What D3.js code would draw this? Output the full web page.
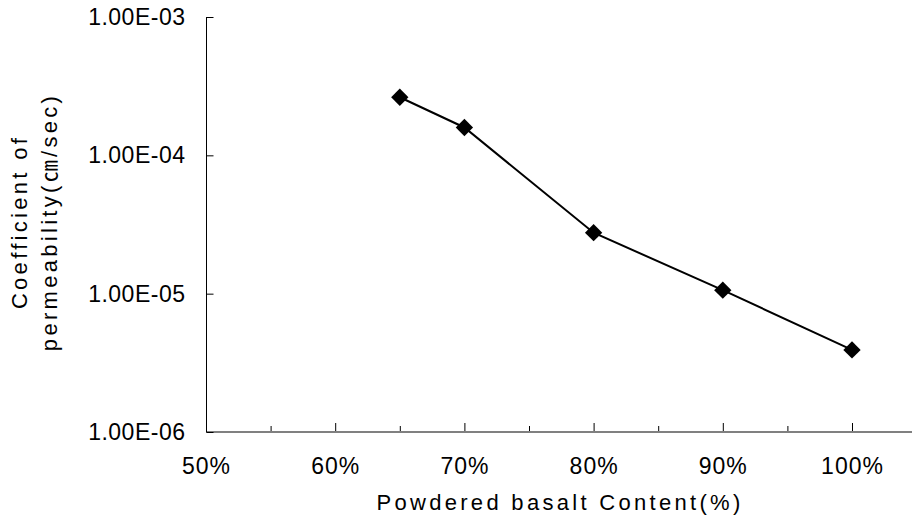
<!DOCTYPE html>
<html>
<head>
<meta charset="utf-8">
<script src="https://cdn.jsdelivr.net/npm/d3@7"></script>
<style>
  html, body { margin: 0; padding: 0; background: #fff; }
  svg { display: block; }
  text { font-family: "Liberation Sans", Arial, "Noto Sans CJK KR", sans-serif; fill: #000; }
</style>
</head>
<body>
<svg id="chart" width="912" height="524"></svg>
<script>
// Powdered basalt content (%) and measured coefficient of permeability (cm/sec)
const content = [65, 70, 80, 90, 100];
const permeability = [2.63e-4, 1.59e-4, 2.76e-5, 1.06e-5, 3.92e-6];

// Axis ticks
const xMajorTicks = [50, 60, 70, 80, 90, 100];
const xMinorTicks = [55, 65, 75, 85, 95];
const yTicks = [1e-6, 1e-5, 1e-4, 1e-3];
const yTickLabels = ["1.00E-06", "1.00E-05", "1.00E-04", "1.00E-03"];

const svg = d3.select("#chart");
const W = 912, H = 524;
const plotLeft = 206, plotBottom = 432, plotTop = 17;

const x = d3.scaleLinear().domain([50, 105]).range([plotLeft, plotLeft + 55 * 12.92]);
const y = d3.scaleLog().domain([1e-6, 1e-3]).range([plotBottom, plotTop]);

// Minor x ticks (inside, short)
svg.append("g")
  .attr("transform", `translate(0,${plotBottom})`)
  .call(d3.axisBottom(x).tickValues(xMinorTicks).tickSize(-6).tickFormat(""))
  .call(g => g.select(".domain").remove())
  .call(g => g.selectAll(".tick line").attr("stroke", "#000").attr("stroke-width", 1));

// Major x ticks with percentage labels
svg.append("g")
  .attr("transform", `translate(0,${plotBottom})`)
  .call(d3.axisBottom(x).tickValues(xMajorTicks).tickSize(-9).tickPadding(26)
    .tickFormat(d => d + "%"))
  .call(g => g.select(".domain").remove())
  .call(g => g.selectAll(".tick line").attr("stroke", "#000").attr("stroke-width", 1))
  .call(g => g.selectAll(".tick text")
    .attr("font-size", 23).attr("letter-spacing", "1px")
    .attr("font-family", "'Liberation Sans', Arial, sans-serif"));

// X axis line
svg.append("line")
  .attr("x1", plotLeft).attr("x2", W)
  .attr("y1", plotBottom).attr("y2", plotBottom)
  .attr("stroke", "#808080").attr("stroke-width", 2);

// Y axis (log decades, ticks pointing inward)
svg.append("g")
  .attr("transform", `translate(${plotLeft + 0.5},0)`)
  .call(d3.axisLeft(y).tickValues(yTicks).tickSize(-7).tickPadding(21)
    .tickFormat((d, i) => yTickLabels[i]))
  .call(g => g.select(".domain").attr("stroke", "#000").attr("d", `M0,${plotTop}V${plotBottom}`))
  .call(g => g.selectAll(".tick line").attr("stroke", "#000"))
  .call(g => g.selectAll(".tick text")
    .attr("font-size", 23).attr("letter-spacing", "0.5px")
    .attr("font-family", "'Liberation Sans', Arial, sans-serif"));

// Data line
const pts = content.map((c, i) => [x(c), y(permeability[i])]);
svg.append("path")
  .attr("d", d3.line()(pts))
  .attr("fill", "none")
  .attr("stroke", "#000")
  .attr("stroke-width", 2);

// Diamond markers
svg.append("g").selectAll("path")
  .data(pts)
  .join("path")
  .attr("d", d3.symbol(d3.symbolSquare, 150)())
  .attr("transform", d => `translate(${d[0]},${d[1]}) rotate(45)`)
  .attr("fill", "#000");

// Axis titles
svg.append("text")
  .attr("x", 560).attr("y", 510)
  .attr("text-anchor", "middle")
  .attr("font-size", 22)
  .attr("letter-spacing", "3.3px")
  .text("Powdered basalt Content(%)");

const yTitle = svg.append("g").attr("transform", "translate(0,222) rotate(-90)");
yTitle.append("text")
  .attr("x", 0).attr("y", 27)
  .attr("text-anchor", "middle")
  .attr("font-size", 22)
  .attr("letter-spacing", "3.3px")
  .text("Coefficient of");
yTitle.append("text")
  .attr("x", 0).attr("y", 57)
  .attr("text-anchor", "middle")
  .attr("font-size", 22)
  .attr("letter-spacing", "3.3px")
  .text("permeability(㎝/sec)");
</script>
</body>
</html>
